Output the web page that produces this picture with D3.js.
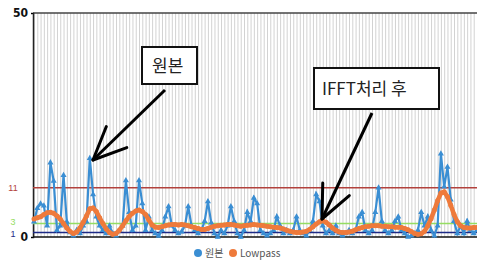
<!DOCTYPE html>
<html>
<head>
<meta charset="utf-8">
<script src="https://cdn.jsdelivr.net/npm/d3@7"></script>
<style>
  body { margin: 0; background: #fff; }
  svg { display: block; }
</style>
</head>
<body>
<div id="chart"></div>
<script>
// raw signal (원본), one value per sample
var original = [
  3.4, 6.4, 7.4, 7, 2.5, 16.6, 12.5, 1.5, 2.5, 13.8,
  3.4, 1, 0.3, 1.5, 0.8, 2.5, 3.4, 17.6, 9.5, 4.5,
  2.5, 1.5, 0.8, 2.5, 0.8, 0.3, 1.5, 2.5, 12.6, 5.5,
  1.5, 2.5, 12.6, 7.5, 1.5, 4.5, 1.5, 0.8, 0.2, 1.5,
  4.5, 6.8, 2.5, 1.5, 0.8, 1.2, 2.5, 6.8, 2.5, 1.5,
  0.8, 1.5, 3.5, 7.9, 3.2, 0.8, 0, 1.5, 0.8, 2.5,
  6.8, 3.5, 0.8, 0, 1.5, 5.5, 3.5, 8.7, 7.5, 1.5,
  0.8, 0.3, 0.8, 1.5, 4.5, 2.5, 0.8, 1.5, 0.8, 1.5,
  4.5, 1.5, 0.8, 0.3, 1.5, 3.5, 9.5, 7.9, 2.5, 0.8,
  1.5, 0.8, 2.5, 0.8, 0.3, 0.8, 1.5, 0.8, 1.5, 4.5,
  5.5, 1.5, 0.8, 1.5, 5.5, 11, 3.5, 1.5, 0.8, 1.5,
  3.5, 4.5, 1.5, 0.8, 0, 0.3, 0.8, 1.5, 5.5, 2.5,
  4.5, 1.5, 0.3, 2.5, 18.6, 11.2, 15.6, 8.3, 3.5, 0.8,
  2.5, 0.8, 3.5, 1.5, 0.8, 1.5
];

// after IFFT lowpass
var lowpass = [
  4.0, 4.3, 4.5, 5.0, 5.4, 5.5, 5.3, 4.7, 4.0, 3.0,
  2.0, 1.2, 0.8, 1.1, 2.0, 3.3, 4.7, 6.3, 6.5, 5.7,
  4.3, 3.0, 1.8, 1.0, 0.6, 0.8, 1.5, 2.5, 3.6, 4.6,
  5.3, 5.8, 6.0, 5.7, 5.0, 3.8, 2.7, 2.2, 2.1, 2.3,
  2.5, 2.7, 2.8, 2.8, 2.7, 2.8, 2.7, 2.5, 2.3, 2.1,
  1.9, 1.7, 1.7, 1.9, 2.2, 2.4, 2.5, 2.6, 2.7, 2.8,
  2.8, 2.7, 2.5, 2.4, 2.5, 2.6, 2.7, 2.8, 2.7, 2.6,
  2.5, 2.4, 2.3, 2.2, 2.1, 2.0, 1.8, 1.5, 1.3, 1.1,
  1.0, 1.0, 1.1, 1.3, 1.7, 2.3, 2.9, 3.4, 3.6, 3.3,
  2.7, 2.0, 1.5, 1.1, 1.0, 1.0, 1.1, 1.3, 1.6, 1.9,
  2.1, 2.3, 2.4, 2.5, 2.5, 2.5, 2.4, 2.4, 2.3, 2.3,
  2.2, 2.2, 2.1, 1.9, 1.6, 1.2, 0.8, 0.6, 0.7, 1.3,
  2.5, 4.1, 6.0, 8.1, 9.8, 10.1, 9.0, 7.1, 5.0, 3.4,
  2.5, 2.1, 2.0, 2.0, 2.1, 2.1
];

var yTicks = [0, 50];
// threshold lines with their labels
var refValues = [11, 3, 1];
var refLabels = ["11", "3", "1"];
var refColors = ["#b2413c", "#95dd62", "#1d2a86"];
var seriesNames = ["원본", "Lowpass"];
var seriesColors = ["#3a8ed3", "#ee7a3b"];

var width = 477, height = 260;
var plotLeft = 33, plotRight = 477, plotTop = 13, plotBottom = 237;

var svg = d3.select("#chart").append("svg")
  .attr("width", width).attr("height", height);

var x = d3.scaleLinear().domain([0, original.length - 1]).range([plotLeft + 1, plotRight]);
var y = d3.scaleLinear().domain([0, 50]).range([plotBottom, plotTop]);

// vertical gray grid, one per sample
svg.append("g")
  .attr("transform", `translate(0,${plotBottom})`)
  .call(d3.axisBottom(x).tickValues(d3.range(0, original.length)).tickSize(-(plotBottom - plotTop)).tickFormat(""))
  .call(g => g.select(".domain").remove())
  .call(g => g.selectAll("line").attr("stroke", "#d2d2d2").attr("stroke-width", 1));

// top frame line
svg.append("line")
  .attr("x1", plotLeft).attr("x2", plotRight).attr("y1", y(50)).attr("y2", y(50))
  .attr("stroke", "#444").attr("stroke-width", 1.5);

// left axis with 0 and 50
svg.append("g")
  .attr("transform", `translate(${plotLeft},0)`)
  .call(d3.axisLeft(y).tickValues(yTicks).tickSize(2))
  .call(g => g.select(".domain").attr("stroke", "#222").attr("stroke-width", 1.5))
  .call(g => g.selectAll("text")
    .attr("font-family", "'Liberation Sans Narrow', 'DejaVu Sans Condensed', sans-serif")
    .attr("font-weight", "bold").attr("font-size", 12).attr("fill", "#111"));

// threshold lines
var labelOffset = [0, -1.5, 1.5];
refValues.forEach(function (v, i) {
  svg.append("line")
    .attr("x1", plotLeft).attr("x2", plotRight).attr("y1", y(v)).attr("y2", y(v))
    .attr("stroke", refColors[i]).attr("stroke-width", 1.5);
  svg.append("text")
    .attr("x", 13).attr("y", y(v) + labelOffset[i]).attr("dy", "0.35em")
    .attr("text-anchor", "middle")
    .attr("font-family", "'Liberation Sans Narrow', 'Liberation Sans', sans-serif")
    .attr("font-size", 9).attr("fill", refColors[i])
    .text(refLabels[i]);
});

// x axis baseline
svg.append("line")
  .attr("x1", plotLeft).attr("x2", plotRight).attr("y1", y(0)).attr("y2", y(0))
  .attr("stroke", "#111").attr("stroke-width", 1.5);

var line = d3.line()
  .x(function (d, i) { return x(i); })
  .y(function (d) { return y(d); });

// original signal, triangle markers
svg.append("path").attr("d", line(original))
  .attr("fill", "none").attr("stroke", seriesColors[0]).attr("stroke-width", 2.2);
var tri = d3.symbol().type(d3.symbolTriangle).size(16);
svg.append("g").selectAll("path").data(original).join("path")
  .attr("d", tri)
  .attr("transform", (d, i) => `translate(${x(i)},${y(d)})`)
  .attr("fill", seriesColors[0]);

// lowpass
svg.append("path").attr("d", line(lowpass))
  .attr("fill", "none").attr("stroke", seriesColors[1]).attr("stroke-width", 4.5)
  .attr("stroke-linejoin", "round");
svg.append("g").selectAll("circle").data(lowpass).join("circle")
  .attr("cx", (d, i) => x(i)).attr("cy", d => y(d)).attr("r", 2.5)
  .attr("fill", seriesColors[1]);

// legend
var legend = svg.append("g").attr("font-family", "'Noto Sans CJK KR', sans-serif").attr("font-size", 10);
var legendX = [198, 233];
seriesNames.forEach(function (name, i) {
  legend.append("circle").attr("cx", legendX[i]).attr("cy", 253).attr("r", 4).attr("fill", seriesColors[i]);
  legend.append("text").attr("x", legendX[i] + 7).attr("y", 253).attr("dy", "0.35em")
    .attr("fill", "#555").text(name);
});

// callouts
function arrow(x1, y1, x2, y2) {
  var ang = Math.atan2(y1 - y2, x1 - x2);
  var len = 36, spread = 0.42;
  svg.append("line").attr("x1", x1).attr("y1", y1).attr("x2", x2).attr("y2", y2)
    .attr("stroke", "#000").attr("stroke-width", 3);
  [-1, 1].forEach(function (s) {
    svg.append("line").attr("x1", x2).attr("y1", y2)
      .attr("x2", x2 + len * Math.cos(ang + s * spread))
      .attr("y2", y2 + len * Math.sin(ang + s * spread))
      .attr("stroke", "#000").attr("stroke-width", 3).attr("stroke-linecap", "round");
  });
}

function callout(bx, by, bw, bh, label, tx) {
  svg.append("rect").attr("x", bx).attr("y", by).attr("width", bw).attr("height", bh)
    .attr("fill", "#fff").attr("stroke", "#111").attr("stroke-width", 2);
  svg.append("text").attr("x", tx).attr("y", by + bh / 2).attr("dy", "0.36em")
    .attr("font-family", "'Noto Sans CJK KR', sans-serif").attr("font-size", 17)
    .attr("fill", "#222").text(label);
}

callout(142, 47, 55, 37, "원본", 152);
arrow(165, 90, 93, 160);
callout(314, 68, 125, 41, "IFFT처리 후", 322);
arrow(372, 113, 322, 219);
</script>
</body>
</html>
